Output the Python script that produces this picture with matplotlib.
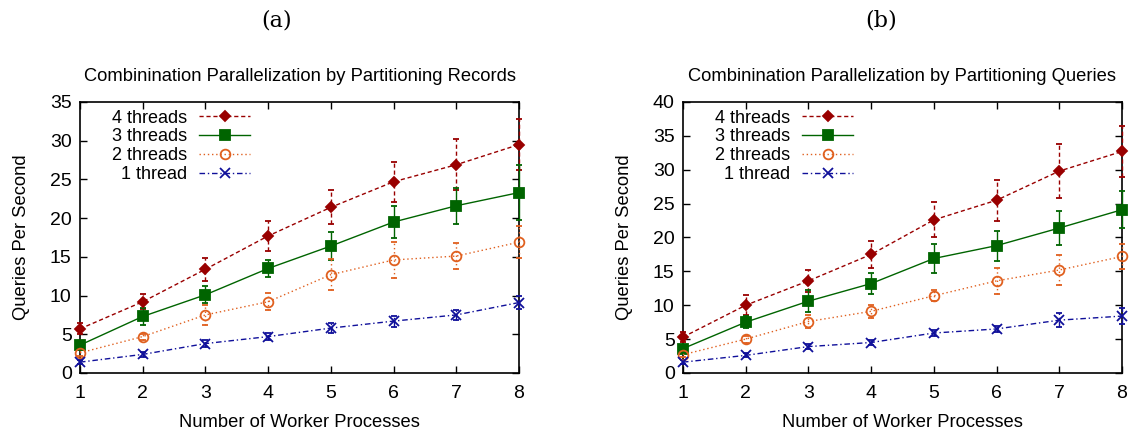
import matplotlib

matplotlib.use("Agg")

import matplotlib.pyplot as plt
from matplotlib.lines import Line2D

plt.rcParams["font.family"] = ["Liberation Sans", "DejaVu Sans"]

WORKERS = [1, 2, 3, 4, 5, 6, 7, 8]

SERIES_LABELS = ["4 threads", "3 threads", "2 threads", "1 thread"]

# (a) partitioning records
REC_4 = [5.7, 9.2, 13.4, 17.7, 21.4, 24.7, 26.9, 29.5]
REC_4_ERR = [0.7, 1.0, 1.5, 1.95, 2.2, 2.6, 3.3, 3.3]
REC_3 = [3.6, 7.3, 10.1, 13.5, 16.4, 19.5, 21.6, 23.3]
REC_3_ERR = [0.5, 1.1, 1.1, 1.1, 1.75, 2.1, 2.35, 3.6]
REC_2 = [2.6, 4.7, 7.5, 9.2, 12.7, 14.6, 15.1, 16.9]
REC_2_ERR = [0.4, 0.4, 1.3, 1.1, 2.0, 2.35, 1.7, 2.05]
REC_1 = [1.4, 2.4, 3.8, 4.7, 5.8, 6.7, 7.5, 9.1]
REC_1_ERR = [0.3, 0.3, 0.5, 0.5, 0.6, 0.7, 0.6, 0.8]

# (b) partitioning queries
QRY_4 = [5.3, 10.0, 13.6, 17.5, 22.6, 25.5, 29.8, 32.7]
QRY_4_ERR = [0.7, 1.5, 1.6, 2.0, 2.6, 3.0, 4.0, 3.8]
QRY_3 = [3.6, 7.5, 10.6, 13.2, 16.9, 18.8, 21.4, 24.1]
QRY_3_ERR = [0.4, 0.9, 1.6, 1.5, 2.1, 2.2, 2.5, 2.7]
QRY_2 = [2.7, 5.0, 7.6, 9.1, 11.4, 13.6, 15.2, 17.2]
QRY_2_ERR = [0.3, 0.5, 1.0, 1.0, 0.8, 1.9, 2.2, 1.9]
QRY_1 = [1.6, 2.6, 3.9, 4.5, 5.9, 6.5, 7.8, 8.4]
QRY_1_ERR = [0.3, 0.3, 0.4, 0.4, 0.4, 0.4, 1.0, 1.2]

STYLES = [
    {"color": "#990000", "ls": (0, (3, 2)), "marker": "D", "ms": 5, "mfc": "#990000"},
    {"color": "#006400", "ls": "-", "marker": "s", "ms": 7, "mfc": "#006400"},
    {"color": "#e0601f", "ls": (0, (1, 2)), "marker": "o", "ms": 7, "mfc": "none"},
    {"color": "#10109a", "ls": (0, (4, 2, 1, 2)), "marker": "x", "ms": 7, "mfc": "none"},
]


def draw_panel(ax, series, errors, title, ymax):
    handles = []

    for values, err, label, style in zip(series, errors, SERIES_LABELS, STYLES):
        marker_kw = dict(
            color=style["color"],
            linestyle=style["ls"],
            linewidth=1.0,
            marker=style["marker"],
            markersize=style["ms"],
            markerfacecolor=style["mfc"],
            markeredgecolor=style["color"],
            markeredgewidth=1.3,
        )

        line, caps, bars = ax.errorbar(
            WORKERS,
            values,
            yerr=err,
            elinewidth=1.0,
            capsize=2.5,
            capthick=1.0,
            clip_on=False,
            zorder=3,
            **marker_kw,
        )
        for bar in bars:
            bar.set_linestyle(style["ls"])
            bar.set_clip_on(False)
        for cap in caps:
            cap.set_clip_on(False)

        handles.append(Line2D([], [], label=label, **marker_kw))

    ax.set_xlim(1, 8)
    ax.set_ylim(0, ymax)
    ax.set_xticks(WORKERS)
    ax.set_yticks(range(0, ymax + 1, 5))

    ax.tick_params(
        direction="in",
        top=True,
        right=True,
        length=5,
        width=1,
        labelsize=14,
    )
    ax.tick_params(axis="x", pad=9)
    ax.tick_params(axis="y", pad=6)

    for spine in ax.spines.values():
        spine.set_linewidth(1.2)

    ax.set_xlabel("Number of Worker Processes", fontsize=13.2, labelpad=8)
    ax.set_ylabel("Queries Per Second", fontsize=13.2, labelpad=14)
    ax.set_title(title, fontsize=13.2, pad=15)

    ax.legend(
        handles=handles,
        loc="upper right",
        bbox_to_anchor=(0.387, 0.972),
        frameon=False,
        markerfirst=False,
        fontsize=13,
        handlelength=2.8,
        handletextpad=0.7,
        labelspacing=0.1,
        borderpad=0,
        borderaxespad=0,
    )


def main() -> None:
    fig = plt.figure(figsize=(11.33, 4.32), dpi=100)

    # ---------------------------------------
    # Panel (a)
    # ---------------------------------------

    ax_a = fig.add_axes([0.0706, 0.1366, 0.3875, 0.6273])

    draw_panel(
        ax_a,
        [REC_4, REC_3, REC_2, REC_1],
        [REC_4_ERR, REC_3_ERR, REC_2_ERR, REC_1_ERR],
        "Combinination Parallelization by Partitioning Records",
        35,
    )

    # ---------------------------------------
    # Panel (b)
    # ---------------------------------------

    ax_b = fig.add_axes([0.6028, 0.1366, 0.3875, 0.6273])

    draw_panel(
        ax_b,
        [QRY_4, QRY_3, QRY_2, QRY_1],
        [QRY_4_ERR, QRY_3_ERR, QRY_2_ERR, QRY_1_ERR],
        "Combinination Parallelization by Partitioning Queries",
        40,
    )

    fig.text(277 / 1133, 1 - 20 / 432, "(a)", family="DejaVu Serif", fontsize=16,
             ha="center", va="center")
    fig.text(881 / 1133, 1 - 20 / 432, "(b)", family="DejaVu Serif", fontsize=16,
             ha="center", va="center")

    fig.savefig("out.png", dpi=100)


if __name__ == "__main__":
    main()
